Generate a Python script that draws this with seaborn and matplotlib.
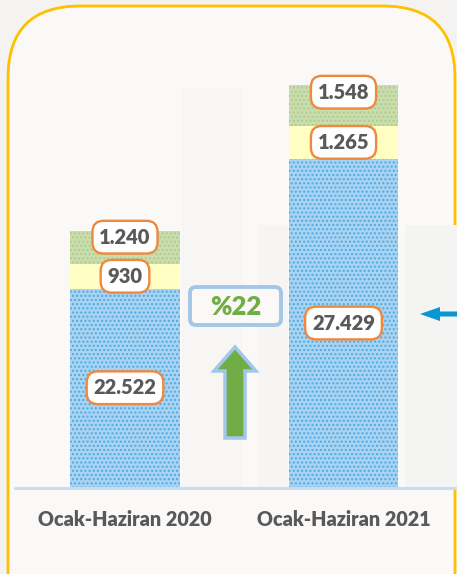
import matplotlib
matplotlib.use("Agg")
import matplotlib.pyplot as plt
import seaborn as sns
import pandas as pd
from matplotlib.patches import FancyBboxPatch, FancyArrow, Rectangle

# ---- data ----
periods = ["Ocak-Haziran 2020", "Ocak-Haziran 2021"]
blue_vals = [22522, 27429]
yellow_vals = [930, 1265]
green_vals = [1240, 1548]
blue_labels = ["22.522", "27.429"]
yellow_labels = ["930", "1.265"]
green_labels = ["1.240", "1.548"]
growth_label = "%22"

sns.set_theme(style="white")
plt.rcParams["font.family"] = ["Lato", "DejaVu Sans"]
plt.rcParams["hatch.linewidth"] = 1.0

W, H = 457, 574
fig = plt.figure(figsize=(W / 100, H / 100), dpi=100)
fig.patch.set_facecolor("#F4F3F2")

# decoration axes in pixel coordinates
bg = fig.add_axes([0, 0, 1, 1], zorder=0)
bg.set_xlim(0, W)
bg.set_ylim(H, 0)
bg.axis("off")
bg.set_facecolor("none")
# rounded yellow frame
bg.add_patch(FancyBboxPatch((8, 6), 447, 640, boxstyle="round,pad=0,rounding_size=72",
                            facecolor="#FAF9F7", edgecolor="#FFC000", lw=2, zorder=1))
# faint background columns
for (x0, y0, w, h, c) in [(182, 88, 60, 400, "#F7F6F5"), (258, 225, 30, 262, "#F6F5F4"),
                          (405, 225, 52, 262, "#F4F4F3")]:
    bg.add_patch(Rectangle((x0, y0), w, h, facecolor=c, edgecolor="none", zorder=1.5))

# main axes: baseline value 15000 at pixel 487
base_px = 487
scale = 37.9  # units per pixel
ax = fig.add_axes([0, (H - base_px) / H, 1, base_px / H], zorder=2)
ax.set_facecolor("none")
ymin = 15000
ax.set_ylim(ymin, ymin + base_px * scale)

df = pd.DataFrame({
    "period": periods,
    "blue": blue_vals,
    "yellow": [b + y for b, y in zip(blue_vals, yellow_vals)],
    "green": [b + y + g for b, y, g in zip(blue_vals, yellow_vals, green_vals)],
})

bw = 0.503
sns.barplot(data=df, x="period", y="green", color="#CADDAE", width=bw, ax=ax,
            saturation=1, edgecolor="#B0CC8C", linewidth=0, hatch="....")
sns.barplot(data=df, x="period", y="yellow", color="#FFFFC4", width=bw, ax=ax,
            saturation=1, linewidth=0)
sns.barplot(data=df, x="period", y="blue", color="#A8D3F2", width=bw, ax=ax,
            saturation=1, edgecolor="#4FA9E0", linewidth=0, hatch="....")
for p in ax.patches:
    p.set_linewidth(0)

ax.set_xlim(-125 / 218.5, (W - 125) / 218.5)
ax.axis("off")

# baseline
bg.plot([15, W], [base_px + 1, base_px + 1], color="#C9DCF0", lw=2.2, zorder=3)

box_style = dict(boxstyle="round,pad=0.34,rounding_size=0.55", fc="white", ec="#F0883E", lw=1.7)
txt_kw = dict(ha="center", va="center", fontsize=14.5, fontweight="heavy", color="#595959", zorder=5)

for i in range(2):
    b, y, g = blue_vals[i], yellow_vals[i], green_vals[i]
    ax.text(i, (ymin + b) / 2, blue_labels[i], bbox=box_style, **txt_kw)
    ax.text(i, b + y / 2, yellow_labels[i], bbox=box_style, **txt_kw)
    ax.text(i, b + y + g * 0.82, green_labels[i], bbox=box_style, **txt_kw)

# x labels
for i, lab in enumerate(periods):
    ax.text(i, ymin - 32 * scale, lab, ha="center", va="center", fontsize=14.2,
            fontweight="heavy", color="#595959")

# growth box
bg.add_patch(FancyBboxPatch((190, 287), 91, 38, boxstyle="round,pad=0,rounding_size=6",
                            fc="#FAF9F7", ec="#A4C6E8", lw=2.8, zorder=4))
bg.text(235.5, 307, growth_label, ha="center", va="center", fontsize=18.5,
        fontweight="heavy", color="#70AD47", zorder=5)

# up arrow
bg.add_patch(FancyArrow(235, 438, 0, -91, width=20, head_width=42, head_length=24,
                        length_includes_head=True, fc="#70AD47", ec="#A4C6E8", lw=2.5, zorder=4))
# left arrow at right edge
bg.add_patch(FancyArrow(460, 314, -40, 0, width=5, head_width=14, head_length=20,
                        length_includes_head=True, fc="#0A96D2", ec="none", zorder=4))

fig.savefig("out.png", dpi=100)
